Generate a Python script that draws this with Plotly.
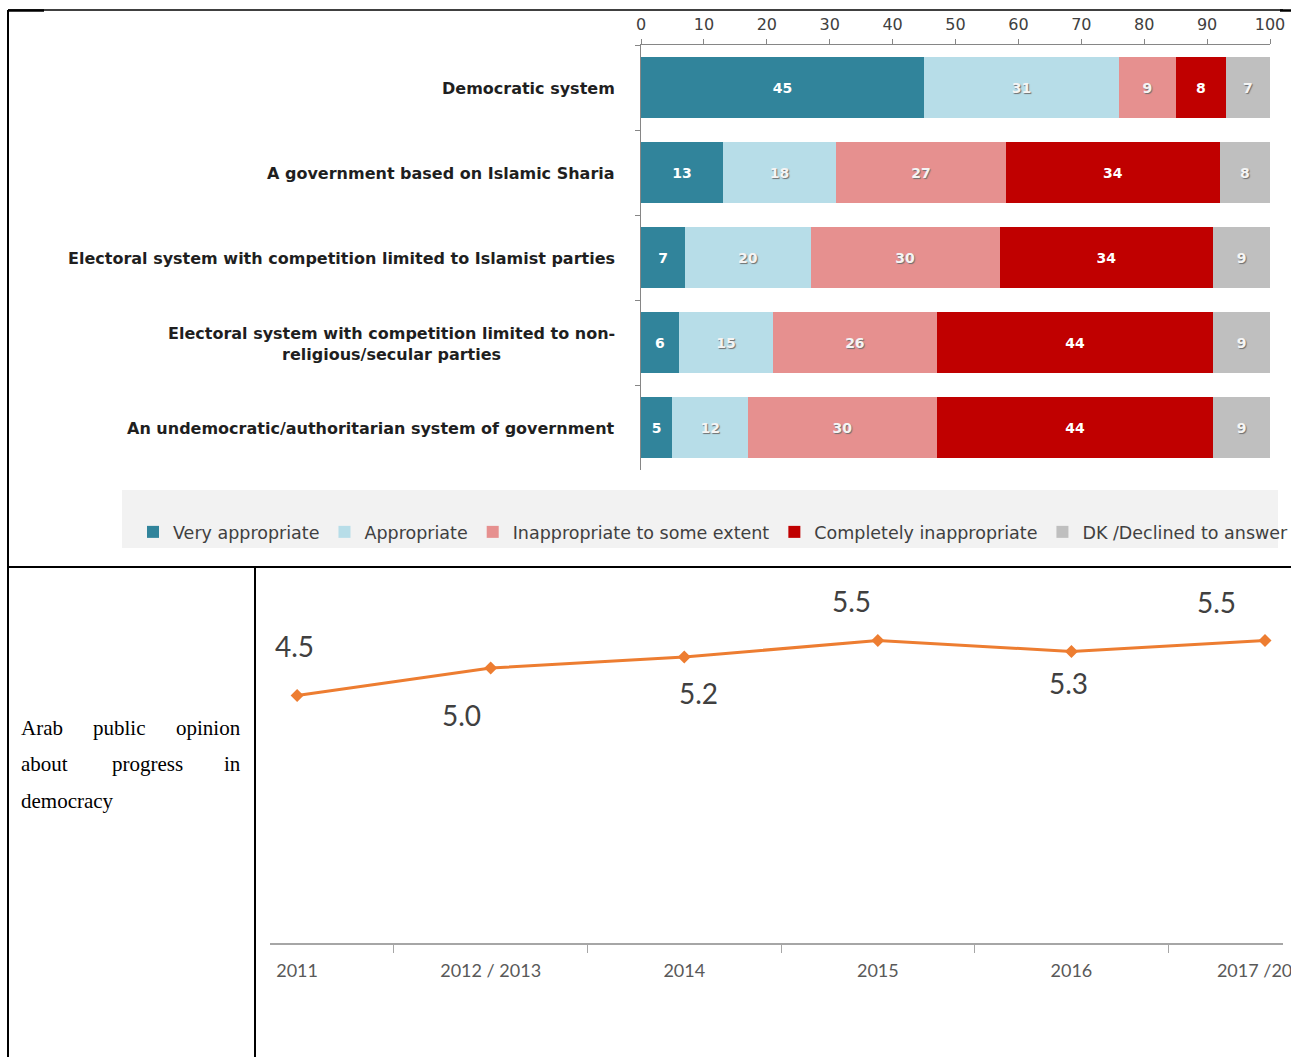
import plotly.graph_objects as go

# Page geometry (pixels) used to place axes domains and table rules
W, H = 1291, 1057


def px(x):
    return x / W


def py(y):
    return 1 - y / H


# ---- Stacked bar chart: appropriateness of political systems (%) ----
categories = [
    "Democratic system",
    "A government based on Islamic Sharia",
    "Electoral system with competition limited to Islamist parties",
    "Electoral system with competition limited to non-religious/secular parties",
    "An undemocratic/authoritarian system of government",
]
category_labels = [
    "Democratic system",
    "A government based on Islamic Sharia",
    "Electoral system with competition limited to Islamist parties",
    "Electoral system with competition limited to non-<br>religious/secular parties",
    "An undemocratic/authoritarian system of government",
]
very_appropriate = [45, 13, 7, 6, 5]
appropriate = [31, 18, 20, 15, 12]
inappropriate_some_extent = [9, 27, 30, 26, 30]
completely_inappropriate = [8, 34, 34, 44, 44]
dk_declined = [7, 8, 9, 9, 9]
response_names = [
    "Very appropriate",
    "Appropriate",
    "Inappropriate to some extent",
    "Completely inappropriate",
    "DK /Declined to answer",
]
pct_ticks = [0, 10, 20, 30, 40, 50, 60, 70, 80, 90, 100]

# ---- Line chart: Arab public opinion about progress in democracy ----
survey_years = ["2011", "2012 / 2013", "2014", "2015", "2016", "2017 /2018"]
progress_score = [4.5, 5.0, 5.2, 5.5, 5.3, 5.5]

# styling for each response series: fill colour, label colour, label shadow
bar_styles = [
    ("#31849B", "#FFFFFF", "none"),
    ("#B7DDE8", "#F4F4F4", "1px 1px 1px #6f6f6f"),
    ("#E6908F", "#F4F4F4", "1px 1px 1px #6f6f6f"),
    ("#C00000", "#FFFFFF", "none"),
    ("#BFBFBF", "#F4F4F4", "1px 1px 1px #6f6f6f"),
]
series_values = [
    very_appropriate,
    appropriate,
    inappropriate_some_extent,
    completely_inappropriate,
    dk_declined,
]

fig = go.Figure()

for name, vals, (fill, txt, shadow) in zip(response_names, series_values, bar_styles):
    fig.add_trace(
        go.Bar(
            y=categories,
            x=vals,
            name=name,
            orientation="h",
            marker=dict(color=fill, line=dict(width=0)),
            text=vals,
            texttemplate="%{text}",
            textposition="inside",
            insidetextanchor="middle",
            constraintext="none",
            textfont=dict(family="DejaVu Sans", size=14, color=txt,
                          weight="bold", shadow=shadow),
            hoverinfo="skip",
            xaxis="x",
            yaxis="y",
        )
    )

fig.add_trace(
    go.Scatter(
        x=survey_years,
        y=progress_score,
        mode="lines+markers",
        line=dict(color="#ED7D31", width=3),
        marker=dict(symbol="diamond", size=10, color="#ED7D31"),
        showlegend=False,
        hoverinfo="skip",
        xaxis="x2",
        yaxis="y2",
    )
)

annotations = []

# category labels, right-aligned blocks with centred lines
for cat, lab in zip(categories, category_labels):
    annotations.append(
        dict(
            x=0, y=cat, xref="x", yref="y",
            text=lab, showarrow=False,
            xanchor="right", yanchor="middle", xshift=-24, yshift=-1,
            align="center",
            font=dict(family="DejaVu Sans", size=16, color="#1f1f1f", weight="bold"),
        )
    )

# value labels on the line chart, each nudged off its marker
# (x given as category index so year-like names are not read as numbers)
label_shift_x = [-3, -29, 14, -26, -3, -49]
label_shift_y = [50, -47, -36, 40, -31, 39]
for i, (val, dx, dy) in enumerate(zip(progress_score, label_shift_x, label_shift_y)):
    annotations.append(
        dict(
            x=i, y=val, xref="x2", yref="y2",
            text=f"{val:.1f}", showarrow=False,
            xanchor="center", yanchor="middle",
            xshift=dx, yshift=dy,
            font=dict(family="Lato", size=28, color="#404040"),
        )
    )

# justified caption in the left table cell: one text per word,
# first word flush left, last word flush right, middle word between
caption_font = dict(family="Liberation Serif", size=21, color="#000000")
caption_rows = [
    (["Arab", "public", "opinion"], 728),
    (["about", "progress", "in"], 764),
    (["democracy"], 801),
]
caption_left, caption_right = 19, 243
middle_word_centre = {"public": 119.5, "progress": 147}
for words, ypix in caption_rows:
    if len(words) == 1:
        spots = [(words[0], caption_left, "left")]
    else:
        spots = [
            (words[0], caption_left, "left"),
            (words[1], middle_word_centre[words[1]], "center"),
            (words[2], caption_right, "right"),
        ]
    for word, xpix, anchor in spots:
        annotations.append(
            dict(
                x=px(xpix), y=py(ypix), xref="paper", yref="paper",
                text=word, showarrow=False,
                xanchor=anchor, yanchor="middle",
                font=caption_font,
            )
        )

rule = dict(color="#000000", width=2)
shapes = [
    # legend background panel
    dict(type="rect", xref="paper", yref="paper",
         x0=px(122), x1=px(1278), y0=py(548), y1=py(490),
         fillcolor="#F2F2F2", line=dict(width=0), layer="below"),
    # table rules
    dict(type="line", xref="paper", yref="paper",
         x0=px(8), x1=px(1283), y0=py(10), y1=py(10),
         line=dict(color="#000000", width=1.5)),
    dict(type="line", xref="paper", yref="paper",
         x0=px(8), x1=px(44), y0=py(10.5), y1=py(10.5),
         line=dict(color="#000000", width=2.5)),
    dict(type="line", xref="paper", yref="paper",
         x0=px(1280), x1=px(1291), y0=py(10.5), y1=py(10.5),
         line=dict(color="#000000", width=2.5)),
    dict(type="line", xref="paper", yref="paper",
         x0=px(8), x1=px(8), y0=py(10), y1=py(1057), line=rule),
    dict(type="line", xref="paper", yref="paper",
         x0=px(8), x1=px(1291), y0=py(567), y1=py(567), line=rule),
    dict(type="line", xref="paper", yref="paper",
         x0=px(255), x1=px(255), y0=py(567), y1=py(1057), line=rule),
]

fig.update_layout(
    width=W,
    height=H,
    margin=dict(l=0, r=0, t=0, b=0, autoexpand=False),
    paper_bgcolor="#FFFFFF",
    plot_bgcolor="rgba(0,0,0,0)",
    barmode="stack",
    bargap=0.29,
    showlegend=True,
    legend=dict(
        orientation="h",
        x=px(133), y=py(532),
        xanchor="left", yanchor="middle",
        bgcolor="rgba(0,0,0,0)",
        traceorder="normal",
        font=dict(family="DejaVu Sans", size=17.5, color="#404040"),
        itemclick=False,
    ),
    xaxis=dict(
        domain=[px(641), px(1270)],
        anchor="y",
        side="top",
        range=[0, 100],
        tickvals=pct_ticks,
        ticktext=[str(v) for v in pct_ticks],
        ticks="outside",
        ticklen=5,
        tickcolor="#868686",
        showline=True,
        linecolor="#868686",
        linewidth=1,
        showgrid=False,
        zeroline=False,
        automargin=False,
        ticklabelstandoff=3,
        tickfont=dict(family="DejaVu Sans", size=16, color="#404040"),
    ),
    yaxis=dict(
        domain=[py(470), py(45)],
        anchor="x",
        type="category",
        categoryorder="array",
        categoryarray=categories,
        range=[4.5, -0.5],
        showticklabels=False,
        ticks="outside",
        tickson="boundaries",
        ticklen=5,
        tickcolor="#868686",
        showline=True,
        linecolor="#868686",
        linewidth=1,
        showgrid=False,
        zeroline=False,
        automargin=False,
    ),
    xaxis2=dict(
        domain=[px(270), px(1283)],
        anchor="y2",
        type="category",
        categoryorder="array",
        categoryarray=survey_years,
        range=[-0.14, 5.093],
        ticks="outside",
        tickson="boundaries",
        ticklen=8,
        tickcolor="#A6A6A6",
        showline=True,
        linecolor="#A6A6A6",
        linewidth=2,
        showgrid=False,
        zeroline=False,
        automargin=False,
        ticklabelstandoff=10,
        tickfont=dict(family="Lato", size=18, color="#595959"),
    ),
    yaxis2=dict(
        domain=[py(943), py(585.5)],
        anchor="x2",
        range=[0, 6.5],
        visible=False,
        showgrid=False,
        zeroline=False,
        automargin=False,
    ),
    annotations=annotations,
    shapes=shapes,
)

fig.write_html("out.html")
